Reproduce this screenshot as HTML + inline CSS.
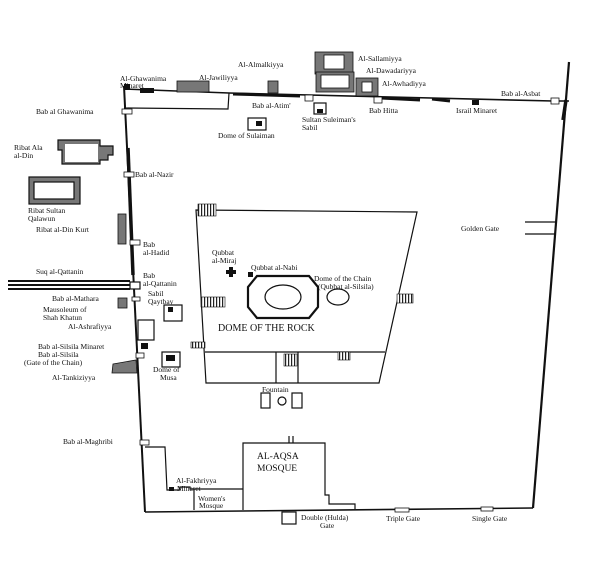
<!DOCTYPE html>
<html><head><meta charset="utf-8"><style>
html,body{margin:0;padding:0;background:#fff;}
svg{display:block;}
text{font-family:"Liberation Serif",serif;font-size:7.5px;fill:#111;}
</style></head><body>
<svg width="600" height="577" viewBox="0 0 600 577" xmlns="http://www.w3.org/2000/svg">
<defs><pattern id="h" width="3" height="4" patternUnits="userSpaceOnUse"><rect width="3" height="4" fill="#fff"/><rect width="1.2" height="4" fill="#222"/></pattern></defs>
<rect width="600" height="577" fill="#fff"/>
<g stroke="#111" fill="none" stroke-width="1.2">
<path d="M124,86 L145,512" stroke-width="2"/>
<path d="M128,148 L133,275" stroke-width="3.5"/>
<path d="M124,89 L229,93 L553,101 L569,101" stroke-width="1.6"/>
<path d="M124,108 L228,109 L229,93"/>
<path d="M233,94 L300,96" stroke-width="3"/>
<path d="M380,98 L420,100" stroke-width="3"/>
<path d="M432,99 L450,101" stroke-width="3"/>
<path d="M569,62 L533,508" stroke-width="2.2"/>
<path d="M566,100 L563,120" stroke-width="3.5"/>
<path d="M525,222 L556,222 M525,234 L555,234"/>
<path d="M145,512 L533,508" stroke-width="1.6"/>
<path d="M196,210 L417,212 L379,383 L206,383 Z"/>
<path d="M205,352 L385,352 M276,352 L276,383 M298,352 L298,383"/>
<polygon points="257,276 309,276 318,287 318,307 309,318 257,318 248,307 248,287" stroke-width="2.2"/>
<ellipse cx="283" cy="297" rx="18" ry="12"/>
<ellipse cx="338" cy="297" rx="11" ry="8"/>
<rect x="261" y="393" width="9" height="15"/><circle cx="282" cy="401" r="4"/><rect x="292" y="393" width="10" height="15"/>
<path d="M243,510 L243,443 L325,443 L325,495 L329,495 L329,504 L355,504 L355,509"/>
<path d="M289,436 L289,443 M293,436 L293,443"/>
<rect x="282" y="512" width="14" height="12"/>
<path d="M145,447 L165,447 L167,490 L180,490 L180,487 L190,487 L190,489 L243,489 M194,489 L194,510"/>
<rect x="248" y="118" width="18" height="12"/>
<rect x="314" y="103" width="12" height="11"/>
<rect x="164" y="305" width="18" height="16"/>
<rect x="162" y="352" width="18" height="15"/>
<rect x="138" y="320" width="16" height="20"/>
<path d="M58,140 L100,140 L100,146 L113,146 L113,155 L108,155 L108,160 L100,160 L100,164 L62,164 L62,150 L58,150 Z" fill="#777"/>
<path d="M65,144 L98,144 L98,162 L65,162 Z" fill="#fff" stroke="none"/>
<rect x="29" y="177" width="51" height="27" fill="#777"/>
<rect x="34" y="182" width="40" height="17" fill="#fff"/>
<path d="M8,281 L130,281 M8,285 L130,285 M8,289 L130,289" stroke-width="2"/>
<rect x="130" y="282" width="10" height="7" fill="#fff"/>
</g>
<g fill="#777" stroke="#111" stroke-width="0.8">
<rect x="177" y="81" width="32" height="11"/>
<rect x="268" y="81" width="10" height="12"/>
<rect x="315" y="52" width="38" height="22"/>
<rect x="316" y="72" width="38" height="20"/>
<rect x="356" y="78" width="22" height="18"/>
<rect x="118" y="214" width="8" height="30"/>
<rect x="118" y="298" width="9" height="10"/>
<path d="M113,364 L136,360 L137,373 L112,373 Z"/>
</g>
<g fill="#fff" stroke="#111" stroke-width="0.8">
<rect x="324" y="55" width="20" height="14"/><rect x="321" y="75" width="28" height="13"/><rect x="362" y="82" width="10" height="10"/>
<rect x="122" y="109" width="10" height="5"/><rect x="124" y="172" width="10" height="5"/><rect x="130" y="240" width="10" height="5"/>
<rect x="132" y="297" width="8" height="4"/><rect x="136" y="353" width="8" height="5"/><rect x="140" y="440" width="9" height="5"/>
<rect x="305" y="95" width="8" height="6"/><rect x="374" y="97" width="8" height="6"/><rect x="551" y="98" width="8" height="6"/>
<rect x="395" y="508" width="14" height="4"/><rect x="481" y="507" width="12" height="4"/>
</g>
<g fill="#111">
<rect x="124" y="84" width="6" height="6"/><rect x="140" y="88" width="14" height="5"/><rect x="256" y="121" width="6" height="5"/>
<rect x="317" y="109" width="6" height="4"/><rect x="472" y="100" width="7" height="5"/><rect x="141" y="343" width="7" height="6"/>
<rect x="166" y="355" width="9" height="6"/><rect x="168" y="307" width="5" height="5"/><rect x="169" y="487" width="5" height="4"/>
<rect x="248" y="272" width="5" height="5"/><path d="M229,267 h4 v3 h3 v4 h-3 v3 h-4 v-3 h-3 v-4 h3 z"/>
</g>
<g fill="url(#h)" stroke="#111" stroke-width="0.6">
<rect x="284" y="354" width="13" height="12"/><rect x="198" y="204" width="18" height="12"/>
<rect x="201" y="297" width="24" height="10"/><rect x="397" y="294" width="16" height="9"/>
<rect x="191" y="342" width="14" height="6"/><rect x="338" y="352" width="12" height="8"/>
</g>
<text x="120" y="81">Al-Ghawanima</text><text x="120" y="88">Minaret</text>
<text x="199" y="80">Al-Jawiliyya</text>
<text x="238" y="67">Al-Almalkiyya</text>
<text x="358" y="61">Al-Sallamiyya</text>
<text x="366" y="73">Al-Dawadariyya</text>
<text x="382" y="86">Al-Awhadiyya</text>
<text x="501" y="96">Bab al-Asbat</text>
<text x="36" y="114">Bab al Ghawanima</text>
<text x="252" y="108">Bab al-Atim'</text>
<text x="369" y="113">Bab Hitta</text>
<text x="456" y="113">Israil Minaret</text>
<text x="302" y="122">Sultan Suleiman's</text><text x="302" y="130">Sabil</text>
<text x="218" y="138">Dome of Sulaiman</text>
<text x="14" y="150">Ribat Ala</text><text x="14" y="158">al-Din</text>
<text x="135" y="177">Bab al-Nazir</text>
<text x="28" y="213">Ribat Sultan</text><text x="28" y="221">Qalawun</text>
<text x="36" y="232">Ribat al-Din Kurt</text>
<text x="143" y="247">Bab</text><text x="143" y="255">al-Hadid</text>
<text x="461" y="231">Golden Gate</text>
<text x="212" y="255">Qubbat</text><text x="212" y="263">al-Miraj</text>
<text x="251" y="270">Qubbat al-Nabi</text>
<text x="314" y="281">Dome of the Chain</text><text x="318" y="289">(Qubbat al-Silsila)</text>
<text x="36" y="274">Suq al-Qattanin</text>
<text x="143" y="278">Bab</text><text x="143" y="286">al-Qattanin</text>
<text x="148" y="296">Sabil</text><text x="148" y="304">Qaytbay</text>
<text x="52" y="301">Bab al-Mathara</text>
<text x="43" y="312">Mausoleum of</text><text x="43" y="320">Shah Khatun</text>
<text x="68" y="329">Al-Ashrafiyya</text>
<text x="218" y="331" style="font-size:10px">DOME OF THE ROCK</text>
<text x="38" y="349">Bab al-Silsila Minaret</text>
<text x="38" y="357">Bab al-Silsila</text><text x="24" y="365">(Gate of the Chain)</text>
<text x="52" y="380">Al-Tankiziyya</text>
<text x="153" y="372">Dome of</text><text x="160" y="380">Musa</text>
<text x="262" y="392">Fountain</text>
<text x="63" y="444">Bab al-Maghribi</text>
<text x="257" y="459" style="font-size:9.5px">AL-AQSA</text><text x="257" y="471" style="font-size:9.5px">MOSQUE</text>
<text x="176" y="483">Al-Fakhriyya</text><text x="177" y="491">Minaret</text>
<text x="198" y="501">Women's</text><text x="199" y="508">Mosque</text>
<text x="301" y="520">Double (Hulda)</text><text x="320" y="528">Gate</text>
<text x="386" y="521">Triple Gate</text>
<text x="472" y="521">Single Gate</text>
</svg>
</body></html>
